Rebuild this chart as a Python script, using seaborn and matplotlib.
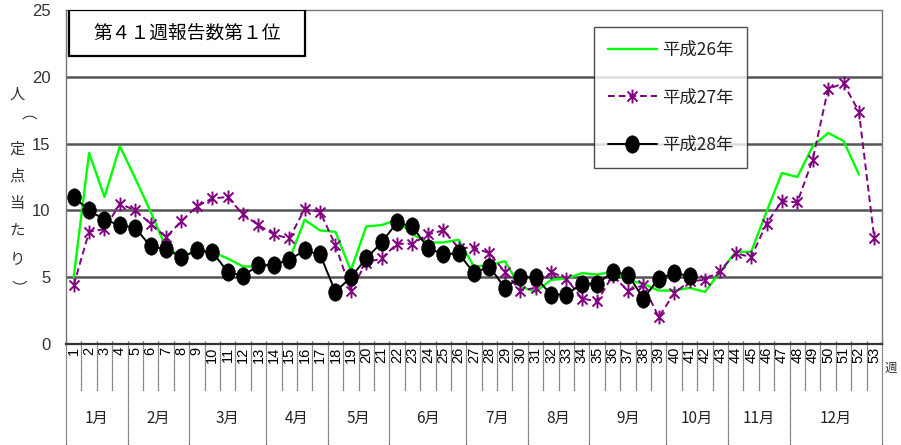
import numpy as np
import pandas as pd
import matplotlib
matplotlib.use("Agg")
import matplotlib.pyplot as plt
import seaborn as sns
from matplotlib.path import Path
from matplotlib.transforms import Affine2D, blended_transform_factory
from matplotlib.patches import Rectangle

# ---------------- data ----------------
weeks = list(range(1, 54))
week_labels = [str(w) for w in weeks]

h26 = [5.0, 14.3, 11.0, 14.8, 12.4, 9.9, 7.2, 6.6, 6.9, 6.9,
       6.4, 5.8, 5.8, 6.0, 6.3, 9.3, 8.5, 8.4, 5.5, 8.8,
       8.9, 9.3, 8.2, 7.6, 7.6, 7.8, 5.8, 5.9, 6.2, 4.3,
       3.9, 4.8, 4.9, 5.3, 5.2, 5.4, 4.8, 4.5, 4.0, 4.0,
       4.2, 3.9, 5.4, 6.9, 6.9, 9.9, 12.8, 12.5, 14.8, 15.8,
       15.2, 12.7]
h27 = [4.4, 8.4, 8.6, 10.5, 10.0, 9.0, 8.0, 9.2, 10.3, 10.9,
       11.0, 9.7, 8.9, 8.2, 7.9, 10.1, 9.9, 7.4, 4.0, 6.1,
       6.4, 7.5, 7.5, 8.2, 8.5, 7.2, 7.2, 6.8, 5.4, 4.0,
       4.2, 5.4, 4.9, 3.4, 3.2, 5.1, 4.0, 4.4, 2.0, 3.8,
       4.7, 4.8, 5.5, 6.8, 6.5, 9.0, 10.7, 10.6, 13.8, 19.1,
       19.5, 17.4, 7.9]
h28 = [11.0, 10.0, 9.3, 8.9, 8.7, 7.3, 7.1, 6.5, 7.0, 6.9,
       5.4, 5.1, 5.9, 5.9, 6.3, 7.0, 6.7, 3.9, 5.0, 6.4,
       7.6, 9.1, 8.8, 7.2, 6.7, 6.8, 5.3, 5.8, 4.2, 5.0,
       5.0, 3.7, 3.7, 4.5, 4.5, 5.4, 5.2, 3.4, 4.9, 5.3,
       5.1]
series_names = ["平成26年", "平成27年", "平成28年"]

months = ["1月", "2月", "3月", "4月", "5月", "6月",
          "7月", "8月", "9月", "10月", "11月", "12月"]
month_weeks = [4, 4, 5, 4, 4, 5, 4, 4, 5, 4, 4, 6]

title_text = "第４１週報告数第１位"
ylabel_chars = ["人", "（", "定", "点", "当", "た", "り", "）"]
y_ticks = [0, 5, 10, 15, 20, 25]

# ---------------- style ----------------
sns.set_style("white")
plt.rcParams["font.family"] = ["Noto Sans CJK JP", "DejaVu Sans"]

W, H = 901, 445
fig = plt.figure(figsize=(W / 100, H / 100), dpi=100)
ax = fig.add_axes([66 / W, 1 - 344 / H, 816 / W, 334 / H])

star = Path([(0, -1), (0, 1), (-0.72, -0.72), (0.72, 0.72), (-0.72, 0.72), (0.72, -0.72)],
            [Path.MOVETO, Path.LINETO] * 3)
ellipse = Path.unit_circle().transformed(Affine2D().scale(0.78, 1.0))

sns.lineplot(x=weeks[:len(h26)], y=h26, ax=ax, color="#00ff00", linewidth=1.7,
             label=series_names[0], zorder=3)
sns.lineplot(x=weeks[:len(h27)], y=h27, ax=ax, color="#800080", linewidth=1.4,
             linestyle=(0, (3.5, 2)), marker=star, markersize=10,
             markeredgecolor="#800080", markeredgewidth=1.4,
             label=series_names[1], zorder=4)
sns.lineplot(x=weeks[:len(h28)], y=h28, ax=ax, color="black", linewidth=1.4,
             marker=ellipse, markersize=12.5, markerfacecolor="black",
             markeredgecolor="black", markeredgewidth=0.5,
             label=series_names[2], zorder=5)

ax.set_xlim(0.5, 53.5)
ax.set_ylim(0, 25)
ax.set_yticks(y_ticks)
ax.set_yticklabels([str(t) for t in y_ticks], family=["Liberation Sans", "DejaVu Sans"],
                   fontsize=12, color="#333333")
ax.tick_params(axis="y", length=0, pad=11)
ax.set_xticks(weeks)
ax.set_xticklabels(week_labels, rotation=90, va="top", ha="center",
                   family=["Liberation Sans", "DejaVu Sans"], fontsize=10.5, color="black")
ax.tick_params(axis="x", length=0, pad=2)
ax.set_xlabel("")
ax.set_ylabel("")

# gridlines
for t in y_ticks[1:-1]:
    ax.axhline(t, color="#555555", linewidth=1.8, zorder=1)

# spines
for side in ["left", "top", "right"]:
    ax.spines[side].set_linestyle((0, (1, 1)))
    ax.spines[side].set_color("#777777")
    ax.spines[side].set_linewidth(1.0)
ax.spines["bottom"].set_color("#333333")
ax.spines["bottom"].set_linewidth(1.6)

# separators below the axis
trans = blended_transform_factory(ax.transData, ax.transAxes)
short_bottom = -(391 - 344) / 334
long_bottom = -(445 - 344) / 334
boundaries = np.cumsum([0] + month_weeks)
month_edges = set(boundaries.tolist())
for b in range(0, 54):
    x = b + 0.5
    bottom = long_bottom if b in month_edges else short_bottom
    ax.plot([x, x], [0.01, bottom], transform=trans, color="#444444",
            linewidth=0.9, linestyle=(0, (1, 0.6)), clip_on=False, zorder=2)

# month labels
month_y = -(418 - 344) / 334
for i, m in enumerate(months):
    xc = (boundaries[i] + boundaries[i + 1]) / 2 + 0.5
    ax.text(xc, month_y, m, transform=trans, ha="center", va="center",
            fontsize=11, color="#222222")

ax.text((885 - 66) / 816, -(368 - 344) / 334, "週", transform=ax.transAxes,
        ha="left", va="center", fontsize=9, color="#333333", clip_on=False)

# title box
bx0, bx1 = (69 - 66) / 816, (305 - 66) / 816
by0, by1 = (344 - 56) / 334, (344 - 10) / 334
ax.add_patch(Rectangle((bx0, by0), bx1 - bx0, by1 - by0, transform=ax.transAxes,
                       facecolor="white", edgecolor="black", linewidth=1.6, zorder=6))
ax.text((bx0 + bx1) / 2, (by0 + by1) / 2, title_text, transform=ax.transAxes,
        ha="center", va="center", fontsize=13.5, color="black", zorder=7)

# y label (vertical stacked characters)
for i, ch in enumerate(ylabel_chars):
    rot = -90 if ch in ("（", "）") else 0
    fig.text(17 / W, 1 - (94 + i * 27.5) / H, ch, ha="center", va="center",
             fontsize=11, color="#333333", rotation=rot)

# legend
leg = ax.legend(loc="upper left", bbox_to_anchor=((594 - 66) / 816, (344 - 27) / 334),
                frameon=True, fancybox=False, edgecolor="#222222", fontsize=12.5,
                labelspacing=1.7, handlelength=2.8, borderpad=0.8,
                handletextpad=0.3, borderaxespad=0)
leg.get_frame().set_linewidth(1.0)
leg.set_zorder(8)
for t in leg.get_texts():
    t.set_color("#222222")

fig.savefig("out.png", dpi=100)
